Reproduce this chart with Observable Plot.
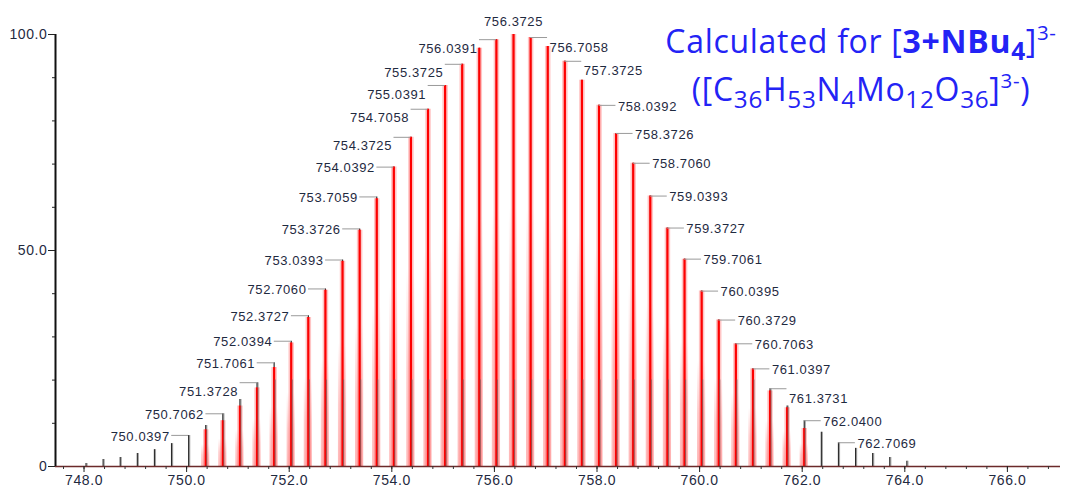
<!DOCTYPE html>
<html>
<head>
<meta charset="utf-8">
<script src="https://cdn.jsdelivr.net/npm/d3@7"></script>
<script src="https://cdn.jsdelivr.net/npm/@observablehq/plot@0.6"></script>
<style>
  html, body { margin: 0; padding: 0; background: #fff; }
  #wrap { position: relative; width: 1073px; height: 492px; overflow: hidden; }
  #title {
    position: absolute; left: 640px; top: 17px; width: 442px;
    text-align: center; color: #2323f5;
    font-family: "Open Sans", "Liberation Sans", sans-serif;
    font-size: 32px; line-height: 48px; white-space: nowrap; letter-spacing: 0.7px;
  }
  #title b { font-weight: 700; }
  #title .sb { font-size: 0.76em; line-height: 0; position: relative; top: 0.3em; }
  #title .sp { font-size: 0.64em; line-height: 0; position: relative; top: -0.62em; }
</style>
</head>
<body>
<div id="wrap">
  <div id="chart"></div>
  <div id="title">
    <div>Calculated for [<b>3+NBu<span class="sb">4</span></b>]<span class="sp">3-</span></div>
    <div>([C<span class="sb">36</span>H<span class="sb">53</span>N<span class="sb">4</span>Mo<span class="sb">12</span>O<span class="sb">36</span>]<span class="sp">3-</span>)</div>
  </div>
</div>
<script>
// Measured isotope pattern (m/z and relative intensity, %)
const expMz = [
  748.0396, 748.3729, 748.7062, 749.0396, 749.3729, 749.7063, 750.0397, 750.3730,
  750.7062, 751.0395, 751.3728, 751.7061, 752.0394, 752.3727, 752.7060, 753.0393,
  753.3726, 753.7059, 754.0392, 754.3725, 754.7058, 755.0391, 755.3725, 755.7058,
  756.0391, 756.3725, 756.7058, 757.0391, 757.3725, 757.7059, 758.0392, 758.3726,
  758.7060, 759.0393, 759.3727, 759.7061, 760.0395, 760.3729, 760.7063, 761.0397,
  761.3731, 761.7065, 762.0400, 762.3734, 762.7069, 763.0402, 763.3736, 763.7070,
  764.0404
];
const expIntensity = [
  0.7, 1.6, 2.1, 3.0, 3.9, 5.3, 7.2, 9.5,
  12.2, 15.5, 19.4, 24.0, 29.0, 34.9, 41.1, 47.8,
  55.0, 62.4, 69.3, 76.2, 82.7, 88.2, 93.1, 96.8,
  98.8, 100.0, 99.3, 97.2, 93.8, 89.4, 83.6, 77.1,
  70.2, 62.6, 55.2, 48.0, 40.6, 33.9, 28.4, 22.6,
  18.0, 14.0, 10.6, 7.9, 5.5, 4.2, 3.0, 2.1,
  1.2
];

// Calculated pattern for [C36H53N4Mo12O36]3-
const calcMz = [
  750.3730, 750.7062, 751.0395, 751.3728, 751.7061, 752.0394, 752.3727, 752.7060,
  753.0393, 753.3726, 753.7059, 754.0392, 754.3725, 754.7058, 755.0391, 755.3725,
  755.7058, 756.0391, 756.3725, 756.7058, 757.0391, 757.3725, 757.7059, 758.0392,
  758.3726, 758.7060, 759.0393, 759.3727, 759.7061, 760.0395, 760.3729, 760.7063,
  761.0397, 761.3731, 761.7065, 762.0400
];
const calcIntensity = [
  8.5, 10.6, 14.0, 18.2, 22.9, 28.6, 34.5, 40.8,
  47.5, 54.7, 62.0, 69.3, 76.2, 82.7, 88.2, 93.1,
  96.8, 98.8, 100.0, 99.3, 97.2, 93.8, 89.4, 83.6,
  77.1, 70.2, 62.6, 55.2, 48.0, 40.6, 33.9, 28.4,
  22.6, 17.5, 13.6, 8.8
];

// Annotated peak masses
const peakLabels = [
  "750.0397", "750.7062", "751.3728", "751.7061", "752.0394", "752.3727", "752.7060", "753.0393",
  "753.3726", "753.7059", "754.0392", "754.3725", "754.7058", "755.0391", "755.3725", "756.0391",
  "756.3725", "756.7058", "757.3725", "758.0392", "758.3726", "758.7060", "759.0393", "759.3727",
  "759.7061", "760.0395", "760.3729", "760.7063", "761.0397", "761.3731", "762.0400", "762.7069"
];

// Axis ticks
const xTickValues = [748, 750, 752, 754, 756, 758, 760, 762, 764, 766];
const yTickValues = [0, 50, 100];

// ---- layout (not data) ----
const xDomain = [747.444, 767.035];
const LEADER = 0.33;                 // leader line length, m/z units
const BASE_BAND = 20;                // where measured sticks show through the calculated profile
const lowered = new Set(["751.3728", "754.3725", "754.7058", "755.0391", "755.3725",
                         "756.0391", "756.7058", "757.3725", "761.3731"]);
const apex = "756.3725";

const exp = expMz.map((mz, i) => ({mz, v: expIntensity[i]}));
const calc = calcMz.map((mz, i) => ({mz, v: calcIntensity[i]}));
const labels = peakLabels.map(t => {
  const mz = +t;
  const i = d3.minIndex(expMz, m => Math.abs(m - mz));
  return {t, mz, v: expIntensity[i]};
});
const leftLab = labels.filter(d => d.t !== apex && d.mz < +apex);
const rightLab = labels.filter(d => d.mz > +apex);
const topLab = labels.filter(d => d.t === apex);

const textColor = "#1f2a3f";
const labFont = 13;

// soft skirt below each calculated peak
const skirtDefs = () => {
  const defs = d3.create("svg:defs");
  const g = defs.append("linearGradient").attr("id", "skirt")
    .attr("x1", 0).attr("y1", 0).attr("x2", 0).attr("y2", 1);
  g.append("stop").attr("offset", 0).attr("stop-color", "#ff7070").attr("stop-opacity", 0);
  g.append("stop").attr("offset", 0.4).attr("stop-color", "#ff7070").attr("stop-opacity", 0);
  g.append("stop").attr("offset", 0.7).attr("stop-color", "#ff7070").attr("stop-opacity", 0.35);
  g.append("stop").attr("offset", 1).attr("stop-color", "#ff7070").attr("stop-opacity", 0.5);
  return defs.node();
};

const chart = Plot.plot({
  width: 1073,
  height: 492,
  marginLeft: 55,
  marginRight: 13,
  marginTop: 34,
  marginBottom: 26,
  x: {domain: xDomain, axis: null},
  y: {domain: [0, 100], axis: null},
  style: {background: "#fff", fontFamily: "'Liberation Sans', Arial, sans-serif"},
  marks: [
    skirtDefs,
    // calculated profile skirts
    Plot.rectY(calc, {x1: d => d.mz - 0.08, x2: d => d.mz + 0.08, y: "v", fill: "url(#skirt)"}),
    // measured sticks
    Plot.ruleX(exp, {x: "mz", y1: 0, y2: "v", stroke: "#2a2a2a", strokeWidth: 1.2}),
    // calculated peaks: halo and core
    Plot.ruleX(calc, {x: "mz", y1: 0, y2: "v", stroke: "#ff5a5a", strokeOpacity: 0.35, strokeWidth: 5.5}),
    Plot.ruleX(calc, {x: "mz", y1: 0, y2: "v", stroke: "#ff0000", strokeWidth: 2.2}),
    // measured sticks where they show through at the base
    Plot.ruleX(exp, {x: "mz", y1: 0, y2: d => Math.min(d.v, BASE_BAND), stroke: "#666", strokeOpacity: 0.6, strokeWidth: 1.2, dx: 1}),
    // baseline and y axis line
    Plot.ruleY([0], {stroke: "#6b2a2a", strokeWidth: 1.6}),
    Plot.ruleX([xDomain[0]], {y1: 0, y2: 100, stroke: "#111", strokeWidth: 2}),
    // x axis
    Plot.axisX(d3.range(747.6, 767.0, 0.4), {tickSize: 3, text: null, stroke: "#333", label: null}),
    Plot.axisX(xTickValues, {tickSize: 6, tickPadding: 3, tickFormat: d => d.toFixed(1), fontSize: 14,
      fill: textColor, stroke: "#222", label: null}),
    // y axis
    Plot.axisY(d3.range(0, 101, 10), {tickSize: 3, text: null, stroke: "#222", label: null}),
    Plot.axisY(yTickValues, {tickSize: 7, tickPadding: 1, fontSize: 14, fill: textColor, stroke: "#222",
      tickFormat: d => d === 0 ? "0" : d.toFixed(1), label: null}),
    // peak annotations
    Plot.ruleY(leftLab, {x1: d => d.mz - LEADER, x2: "mz", y: "v", stroke: "#9a9a9a", strokeWidth: 1}),
    Plot.ruleY(rightLab, {x1: "mz", x2: d => d.mz + LEADER, y: "v", stroke: "#9a9a9a", strokeWidth: 1}),
    Plot.text(leftLab.filter(d => !lowered.has(d.t)), {x: d => d.mz - LEADER, y: "v", text: "t",
      textAnchor: "end", dx: -2, dy: 1, fontSize: labFont, fill: textColor}),
    Plot.text(leftLab.filter(d => lowered.has(d.t)), {x: d => d.mz - LEADER, y: "v", text: "t",
      textAnchor: "end", dx: -2, dy: 9, fontSize: labFont, fill: textColor}),
    Plot.text(rightLab.filter(d => !lowered.has(d.t)), {x: d => d.mz + LEADER, y: "v", text: "t",
      textAnchor: "start", dx: 2, dy: 1, fontSize: labFont, fill: textColor}),
    Plot.text(rightLab.filter(d => lowered.has(d.t)), {x: d => d.mz + LEADER, y: "v", text: "t",
      textAnchor: "start", dx: 2, dy: 10, fontSize: labFont, fill: textColor}),
    Plot.text(topLab, {x: "mz", y: "v", text: "t", textAnchor: "middle", dy: -13, fontSize: labFont, fill: textColor})
  ]
});
chart.style.letterSpacing = "0.6px";
document.getElementById("chart").appendChild(chart);
</script>
</body>
</html>
